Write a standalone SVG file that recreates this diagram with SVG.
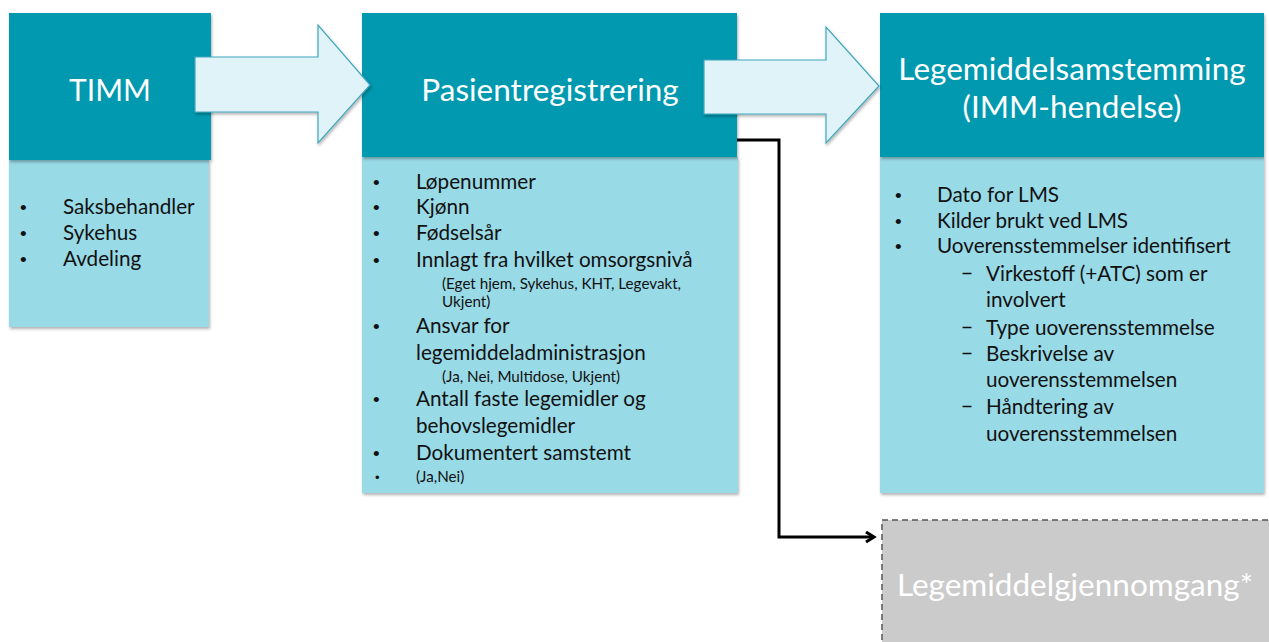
<svg xmlns="http://www.w3.org/2000/svg" width="1269" height="642" viewBox="0 0 1269 642">
<style>
.hdr{fill:#0599B0}
.body{fill:#99DAE7}
.ttl{font-family:Lato,"Liberation Sans",sans-serif;fill:#fff;font-size:31.5px;text-anchor:middle}
.t{font-family:Lato,"Liberation Sans",sans-serif;fill:#111;font-size:20.7px}
.b{font-family:"Liberation Sans",sans-serif;fill:#111;font-size:19px}
.s{font-family:Lato,"Liberation Sans",sans-serif;fill:#111;font-size:15.2px}
.big{fill:#E0F3F9;stroke:#3FA7BD;stroke-width:1.2}
.conn{fill:none;stroke:#000;stroke-width:3}
</style>
<defs>
<filter id="sh" x="-5%" y="-5%" width="110%" height="110%">
<feDropShadow dx="1" dy="2" stdDeviation="1.5" flood-color="#000" flood-opacity="0.3"/>
</filter>
<marker id="ah" markerWidth="12" markerHeight="12" refX="9" refY="6" orient="auto" markerUnits="userSpaceOnUse">
<path d="M1,1 L9,6 L1,11" fill="none" stroke="#000" stroke-width="3"/>
</marker>
</defs>
<rect width="1269" height="642" fill="#fff"/>

<g id="timm">
<rect class="body" x="9" y="160" width="200" height="167" filter="url(#sh)"/>
<rect class="hdr" x="9" y="13" width="202" height="147" filter="url(#sh)"/>
<text class="ttl" x="110" y="101" style="font-size:30px">TIMM</text>
<text class="b" x="20" y="214">•</text><text class="t" x="63" y="214">Saksbehandler</text>
<text class="b" x="20" y="240">•</text><text class="t" x="63" y="240">Sykehus</text>
<text class="b" x="20" y="266">•</text><text class="t" x="63" y="266">Avdeling</text>
</g>

<g id="pasient">
<rect class="body" x="362" y="157" width="376" height="336" filter="url(#sh)"/>
<rect class="hdr" x="362" y="13" width="375" height="144" filter="url(#sh)"/>
<text class="ttl" x="550" y="101">Pasientregistrering</text>
<text class="b" x="373" y="189">•</text><text class="t" x="416" y="189">Løpenummer</text>
<text class="b" x="373" y="214">•</text><text class="t" x="416" y="214">Kjønn</text>
<text class="b" x="373" y="240">•</text><text class="t" x="416" y="240">Fødselsår</text>
<text class="b" x="373" y="267">•</text><text class="t" x="416" y="267">Innlagt fra hvilket omsorgsnivå</text>
<text class="s" x="442" y="289">(Eget hjem, Sykehus, KHT, Legevakt,</text>
<text class="s" x="442" y="307">Ukjent)</text>
<text class="b" x="373" y="333">•</text><text class="t" x="416" y="333">Ansvar for</text>
<text class="t" x="416" y="360">legemiddeladministrasjon</text>
<text class="s" x="442" y="382">(Ja, Nei, Multidose, Ukjent)</text>
<text class="b" x="373" y="406">•</text><text class="t" x="416" y="406">Antall faste legemidler og</text>
<text class="t" x="416" y="433">behovslegemidler</text>
<text class="b" x="373" y="460">•</text><text class="t" x="416" y="460">Dokumentert samstemt</text>
<text class="b" x="375" y="482" style="font-size:13px">•</text><text class="s" x="416" y="482">(Ja,Nei)</text>
</g>

<g id="lms">
<rect class="body" x="880" y="157" width="384" height="336" filter="url(#sh)"/>
<rect class="hdr" x="880" y="13" width="384" height="144" filter="url(#sh)"/>
<text class="ttl" x="1072" y="80">Legemiddelsamstemming</text>
<text class="ttl" x="1072" y="118">(IMM-hendelse)</text>
<text class="b" x="895" y="202">•</text><text class="t" x="937" y="202">Dato for LMS</text>
<text class="b" x="895" y="228">•</text><text class="t" x="937" y="228">Kilder brukt ved LMS</text>
<text class="b" x="895" y="253">•</text><text class="t" x="937" y="253">Uoverensstemmelser identifisert</text>
<text class="t" x="961" y="281">−</text><text class="t" x="986" y="281">Virkestoff (+ATC) som er</text>
<text class="t" x="986" y="307">involvert</text>
<text class="t" x="961" y="335">−</text><text class="t" x="986" y="335">Type uoverensstemmelse</text>
<text class="t" x="961" y="361">−</text><text class="t" x="986" y="361">Beskrivelse av</text>
<text class="t" x="986" y="387">uoverensstemmelsen</text>
<text class="t" x="961" y="414">−</text><text class="t" x="986" y="414">Håndtering av</text>
<text class="t" x="986" y="441">uoverensstemmelsen</text>
</g>

<g id="lmg">
<rect x="882" y="520" width="390" height="130" fill="#CBCBCB" stroke="#555" stroke-width="1.5" stroke-dasharray="6,4"/>
<text class="ttl" x="1075" y="596">Legemiddelgjennomgang*</text>
</g>

<g id="connectors">
<path class="big" d="M195,57 H318 V25 L370,85 L318,143 V112 H195 Z" filter="url(#sh)"/>
<path class="big" d="M704,60 H826 V27 L879,86 L826,143 V114 H704 Z" filter="url(#sh)"/>
<path class="conn" d="M737,140 H779 V537 H874" marker-end="url(#ah)"/>
</g>
</svg>
